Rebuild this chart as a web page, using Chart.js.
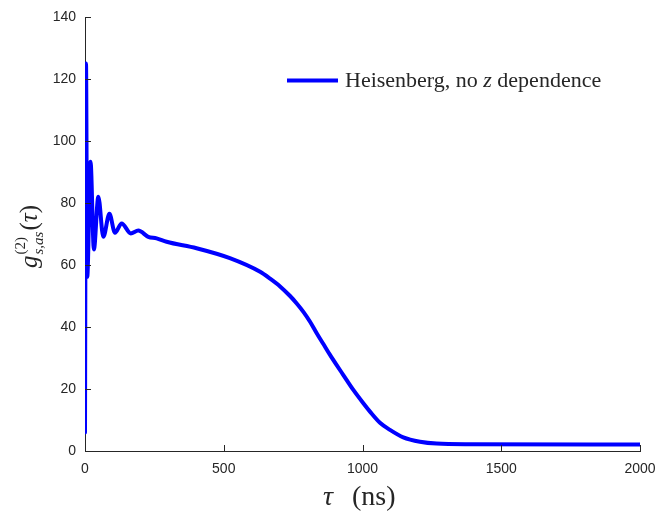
<!DOCTYPE html>
<html>
<head>
<meta charset="utf-8">
<script src="https://cdn.jsdelivr.net/npm/chart.js@4/dist/chart.umd.min.js"></script>
<style>
  html, body { margin: 0; padding: 0; background: #fff; }
  #wrap { width: 661px; height: 513px; }
</style>
</head>
<body>
<div id="wrap"><canvas id="g2Chart" width="661" height="513"></canvas></div>
<script>
// Задержка tau (нс) и корреляционная функция g2_{s,as}(tau)
const tauNs = [0, 3.6, 8, 20, 32, 48, 66, 88, 108, 132, 165, 192, 228, 258, 294, 402, 522, 631,
               667, 703, 739, 763, 787, 811, 835, 859, 883, 907, 931, 967, 1003, 1027, 1063, 1099,
               1147, 1207, 1267, 1387, 2000];
const g2Values = [6, 125, 56.2, 93.3, 65, 82, 69.1, 76.5, 70.4, 73.4, 70.2, 71.1, 69.1, 68.6, 67.5, 65.4, 62.2, 57.8,
                  55.6, 53.1, 50.0, 47.6, 44.9, 41.7, 38.0, 34.5, 31.0, 27.7, 24.5, 19.7, 15.4, 12.7, 9.1, 6.8,
                  4.4, 3.0, 2.4, 2.2, 2.1];

const xTicks = [0, 500, 1000, 1500, 2000];
const yTicks = [0, 20, 40, 60, 80, 100, 120, 140];

const seriesLabel = 'Heisenberg, no z dependence';
const axisColor = '#262626';
const serif = '"Liberation Serif", "DejaVu Serif", serif';

// Засечки внутрь области графика, подписи осей и легенда
const decorPlugin = {
    id: 'decor',
    afterDraw(chart) {
        const ctx = chart.ctx;
        const area = chart.chartArea;
        const xs = chart.scales.x;
        const ys = chart.scales.y;

        ctx.save();
        ctx.strokeStyle = axisColor;
        ctx.lineWidth = 1;
        ctx.beginPath();
        xTicks.forEach(v => {
            const px = Math.round(xs.getPixelForValue(v)) + 0.5;
            ctx.moveTo(px, area.bottom);
            ctx.lineTo(px, area.bottom - 6);
        });
        yTicks.forEach(v => {
            const py = Math.round(ys.getPixelForValue(v)) + 0.5;
            ctx.moveTo(area.left, py);
            ctx.lineTo(area.left + 6, py);
        });
        ctx.stroke();

        // легенда
        const ds = chart.data.datasets[0];
        ctx.strokeStyle = ds.borderColor;
        ctx.lineWidth = 4;
        ctx.beginPath();
        ctx.moveTo(287, 80.5);
        ctx.lineTo(338, 80.5);
        ctx.stroke();

        ctx.fillStyle = axisColor;
        ctx.textBaseline = 'alphabetic';
        ctx.textAlign = 'left';
        let x = 345;
        const parts = [['Heisenberg, no ', ''], ['z', 'italic '], [' dependence', '']];
        parts.forEach(([t, style]) => {
            ctx.font = style + '22px ' + serif;
            ctx.fillText(t, x, 87);
            x += ctx.measureText(t).width;
        });

        // подпись оси X: tau (ns)
        ctx.font = 'italic 28px ' + serif;
        ctx.fillText('τ', 323, 505);
        ctx.font = '28px ' + serif;
        ctx.fillText('(ns)', 352, 505);

        // подпись оси Y: g^{(2)}_{s,as}(tau)
        ctx.translate(37, 268);
        ctx.rotate(-Math.PI / 2);
        let p = 0;
        ctx.font = 'italic 25px ' + serif;
        ctx.fillText('g', p, 0);
        p += ctx.measureText('g').width + 1;
        ctx.font = '15px ' + serif;
        ctx.fillText('(2)', p, -12);
        const supW = ctx.measureText('(2)').width;
        ctx.font = 'italic 15px ' + serif;
        ctx.fillText('s,as', p, 6);
        const subW = ctx.measureText('s,as').width;
        p += Math.max(supW, subW) + 1;
        ctx.font = '25px ' + serif;
        ctx.fillText('(', p, 0);
        p += ctx.measureText('(').width;
        ctx.font = 'italic 25px ' + serif;
        ctx.fillText('τ', p, 0);
        p += ctx.measureText('τ').width;
        ctx.font = '25px ' + serif;
        ctx.fillText(')', p, 0);
        ctx.restore();
    }
};

const tickFont = { family: '"Liberation Sans", Arial, sans-serif', size: 14 };

const ctx = document.getElementById('g2Chart');
new Chart(ctx, {
    type: 'line',
    data: {
        datasets: [{
            label: seriesLabel,
            data: tauNs.map((t, i) => ({ x: t, y: g2Values[i] })),
            borderColor: '#0000FF',
            borderWidth: 4,
            pointRadius: 0,
            fill: false,
            cubicInterpolationMode: 'monotone',
            borderCapStyle: 'round',
            borderJoinStyle: 'round'
        }]
    },
    options: {
        responsive: false,
        animation: false,
        layout: { padding: { top: 17, right: 21, left: 0, bottom: 0 } },
        plugins: {
            legend: { display: false },
            tooltip: { enabled: false }
        },
        scales: {
            x: {
                type: 'linear',
                min: 0,
                max: 2000,
                afterFit: s => { s.height = 62; s.paddingLeft = 0; s.paddingRight = 0; },
                afterBuildTicks: s => { s.ticks = xTicks.map(v => ({ value: v })); },
                grid: { display: false, drawTicks: false },
                border: { display: true, color: axisColor, width: 1 },
                ticks: {
                    padding: 10,
                    color: axisColor,
                    maxRotation: 0,
                    font: tickFont,
                    callback: v => String(v)
                }
            },
            y: {
                type: 'linear',
                min: 0,
                max: 140,
                afterFit: s => { s.width = 85; s.paddingTop = 0; s.paddingBottom = 0; },
                afterBuildTicks: s => { s.ticks = yTicks.map(v => ({ value: v })); },
                grid: { display: false, drawTicks: false },
                border: { display: true, color: axisColor, width: 1 },
                ticks: {
                    padding: 9,
                    color: axisColor,
                    font: tickFont,
                    callback: v => String(v)
                }
            }
        }
    },
    plugins: [decorPlugin]
});
</script>
</body>
</html>
